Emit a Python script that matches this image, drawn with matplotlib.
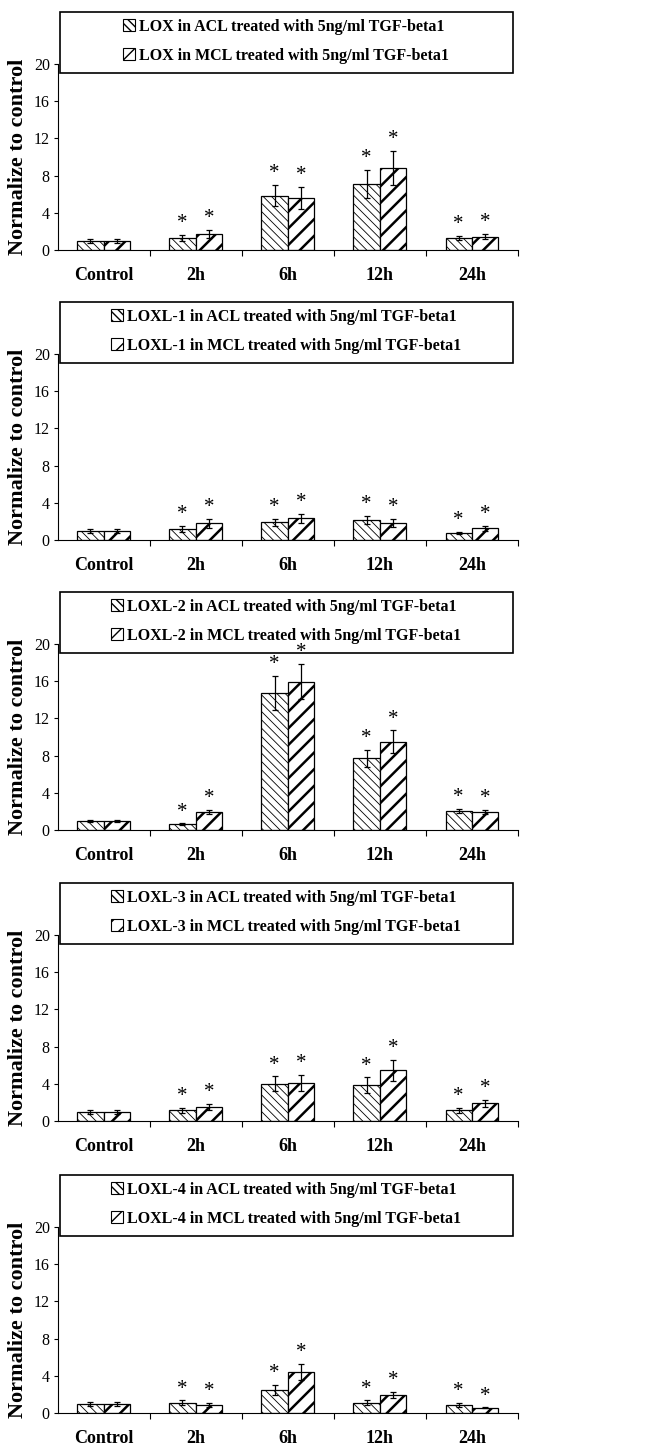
import numpy as np
import matplotlib.pyplot as plt
from matplotlib.patches import Rectangle, Patch

plt.rcParams['font.family'] = ['Liberation Serif', 'DejaVu Serif']

categories = ['Control', '2h', '6h', '12h', '24h']
genes = ['LOX', 'LOXL-1', 'LOXL-2', 'LOXL-3', 'LOXL-4']

# ACL / MCL means and error
lox_acl = [1.0, 1.3, 5.85, 7.1, 1.3]
lox_acl_err = [0.2, 0.35, 1.15, 1.5, 0.25]
lox_mcl = [1.0, 1.75, 5.6, 8.8, 1.45]
lox_mcl_err = [0.2, 0.45, 1.2, 1.85, 0.28]

loxl1_acl = [1.0, 1.2, 1.9, 2.15, 0.75]
loxl1_acl_err = [0.2, 0.3, 0.4, 0.45, 0.15]
loxl1_mcl = [1.0, 1.8, 2.35, 1.8, 1.25]
loxl1_mcl_err = [0.2, 0.47, 0.47, 0.45, 0.25]

loxl2_acl = [1.0, 0.6, 14.7, 7.7, 2.05]
loxl2_acl_err = [0.1, 0.1, 1.85, 0.95, 0.25]
loxl2_mcl = [1.0, 1.95, 15.95, 9.5, 1.95]
loxl2_mcl_err = [0.1, 0.25, 1.9, 1.2, 0.25]

loxl3_acl = [1.0, 1.15, 4.0, 3.85, 1.15]
loxl3_acl_err = [0.2, 0.25, 0.8, 0.85, 0.27]
loxl3_mcl = [1.0, 1.5, 4.1, 5.45, 1.9]
loxl3_mcl_err = [0.2, 0.35, 0.9, 1.15, 0.4]

loxl4_acl = [1.0, 1.1, 2.5, 1.1, 0.85]
loxl4_acl_err = [0.2, 0.25, 0.55, 0.25, 0.25]
loxl4_mcl = [1.0, 0.85, 4.4, 1.95, 0.55]
loxl4_mcl_err = [0.2, 0.25, 0.9, 0.35, 0.05]

# significance marks (True = star above bar)
stars = [False, True, True, True, True]

panels = [
    (lox_acl, lox_acl_err, lox_mcl, lox_mcl_err),
    (loxl1_acl, loxl1_acl_err, loxl1_mcl, loxl1_mcl_err),
    (loxl2_acl, loxl2_acl_err, loxl2_mcl, loxl2_mcl_err),
    (loxl3_acl, loxl3_acl_err, loxl3_mcl, loxl3_mcl_err),
    (loxl4_acl, loxl4_acl_err, loxl4_mcl, loxl4_mcl_err),
]

ACL_HATCH = '\\\\\\\\'
MCL_HATCH = '//'


def set_hlw(patch, lw):
    try:
        patch.set_hatch_linewidth(lw)
    except AttributeError:
        pass


W, H = 659, 1448
fig = plt.figure(figsize=(W / 100, H / 100), dpi=100)

tops = [64, 354, 644, 935, 1227]
ax_h = 186
left, width = 57.5, 460.5

x = np.arange(len(categories))
w = 0.287
err_kw = dict(ecolor='black', elinewidth=0.9, capsize=2.5, capthick=0.9)

for gene, top, (acl, acl_err, mcl, mcl_err) in zip(genes, tops, panels):
    ax = fig.add_axes([left / W, 1 - (top + ax_h) / H, width / W, ax_h / H])

    b1 = ax.bar(x - w / 2, acl, w, yerr=acl_err, color='white', edgecolor='black',
                hatch=ACL_HATCH, linewidth=0.9, error_kw=err_kw)
    b2 = ax.bar(x + w / 2, mcl, w, yerr=mcl_err, color='white', edgecolor='black',
                hatch=MCL_HATCH, linewidth=0.9, error_kw=err_kw)
    for p in b1.patches:
        set_hlw(p, 0.6)
    for p in b2.patches:
        set_hlw(p, 1.8)

    # asterisks
    for xs, vals, errs in [(x - w / 2, acl, acl_err), (x + w / 2, mcl, mcl_err)]:
        for xi, v, e, s in zip(xs, vals, errs, stars):
            if s:
                ax.text(xi, v + e + 1.2, '*', ha='center', va='center', fontsize=15)

    ax.set_xlim(-0.5, len(categories) - 0.5)
    ax.set_ylim(0, 20)
    ax.set_yticks([0, 4, 8, 12, 16, 20])
    ax.tick_params(axis='y', direction='out', length=3, width=0.8, pad=2.5, labelsize=11.5)
    ax.set_xticks(x)
    ax.set_xticklabels(categories, fontsize=13, fontweight='bold')
    ax.tick_params(axis='x', which='major', length=0, pad=12)
    ax.set_xticks(np.arange(len(categories)) + 0.5, minor=True)
    ax.tick_params(axis='x', which='minor', direction='out', length=4, width=0.8)
    ax.spines['top'].set_visible(False)
    ax.spines['right'].set_visible(False)
    ax.spines['left'].set_linewidth(0.8)
    ax.spines['bottom'].set_linewidth(0.8)
    ax.set_ylabel('Normalize to control', fontsize=16, fontweight='bold', labelpad=4)

    # legend box
    ax.add_patch(Rectangle((0.005, 0.952), 0.984, 0.328, transform=ax.transAxes,
                           fill=False, edgecolor='black', linewidth=1.2, clip_on=False))
    h1 = Patch(facecolor='white', edgecolor='black', hatch=ACL_HATCH, linewidth=0.8)
    h2 = Patch(facecolor='white', edgecolor='black', hatch=MCL_HATCH, linewidth=0.8)
    set_hlw(h1, 0.6)
    set_hlw(h2, 1.5)
    ax.legend([h1, h2],
              [f'{gene} in ACL treated with 5ng/ml TGF-beta1',
               f'{gene} in MCL treated with 5ng/ml TGF-beta1'],
              loc='center', bbox_to_anchor=(0.497, 1.122), frameon=False,
              prop=dict(weight='bold', size=11.5), handlelength=0.75,
              handleheight=0.75, handletextpad=0.25, labelspacing=0.8, borderpad=0)

fig.savefig('out.png', dpi=100)
